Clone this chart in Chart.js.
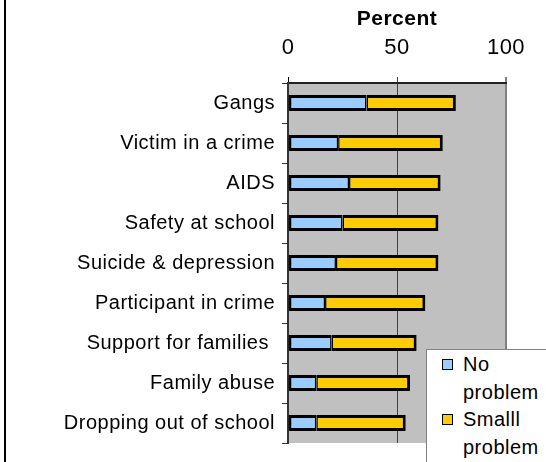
<!DOCTYPE html>
<html>
<head>
<meta charset="utf-8">
<script src="https://cdn.jsdelivr.net/npm/chart.js@4/dist/chart.umd.min.js"></script>
<style>
    body { margin: 0; background: #fff; }
    #wrap { position: relative; width: 546px; height: 462px; overflow: hidden; }
    #edge { position: absolute; left: 4px; top: 0; width: 2px; height: 462px; background: #000; }
    #legend {
        position: absolute; left: 426px; top: 349px; width: 140px; height: 130px;
        background: #fff; border: 1px solid #808080; box-sizing: border-box;
        font-family: 'Liberation Sans', Arial, sans-serif; font-size: 20px; letter-spacing: 0.5px;
        line-height: 27.7px; color: #000; padding: 1px 0 0 0;
    }
    .item { position: relative; padding-left: 36px; width: 80px; }
    .box { position: absolute; left: 15px; top: 8px; width: 9px; height: 9px; border: 1.5px solid #000; }
</style>
</head>
<body>
<div id="wrap">
    <canvas id="chart" width="546" height="462"></canvas>
    <div id="edge"></div>
    <div id="legend"></div>
</div>
<script>
const categories = ['Gangs', 'Victim in a crime', 'AIDS', 'Safety at school', 'Suicide & depression',
    'Participant in crime', 'Support for families ', 'Family abuse', 'Dropping out of school'];
const seriesNames = ['No problem', 'Smalll problem'];
const noProblem = [36, 23, 28, 25, 22, 17, 20, 13, 13];
const smallProblem = [41, 48, 42, 44, 47, 46, 39, 43, 41];
const xTicks = [0, 50, 100];

const FONT = "'Liberation Sans', Arial, sans-serif";
const COLORS = ['#99CCFF', '#FFCC00'];

// Excel-like text is a little wider than plain Arial
const plotLook = {
    id: 'plotLook',
    beforeLayout(chart) {
        chart.ctx.letterSpacing = '0.5px';
    },
    beforeDraw(chart) {
        const { ctx, chartArea: a } = chart;
        ctx.letterSpacing = '0.5px';
        ctx.save();
        ctx.fillStyle = '#C0C0C0';
        ctx.fillRect(a.left, a.top, a.right - a.left, a.bottom - a.top);
        ctx.restore();
    }
};

new Chart(document.getElementById('chart'), {
    type: 'bar',
    data: {
        labels: categories,
        datasets: [
            {
                label: seriesNames[0],
                data: noProblem,
                backgroundColor: COLORS[0],
                borderColor: '#000',
                borderWidth: { top: 3, bottom: 3, left: 3, right: 1.5 },
                borderSkipped: false
            },
            {
                label: seriesNames[1],
                data: smallProblem,
                backgroundColor: COLORS[1],
                borderColor: '#000',
                borderWidth: { top: 3, bottom: 3, left: 1.5, right: 3 },
                borderSkipped: false
            }
        ]
    },
    options: {
        indexAxis: 'y',
        responsive: false,
        animation: false,
        layout: { padding: { left: 0, top: 0, right: 40, bottom: 12 } },
        datasets: { bar: { categoryPercentage: 1, barPercentage: 0.4 } },
        plugins: { legend: { display: false }, tooltip: { enabled: false } },
        scales: {
            x: {
                position: 'top',
                stacked: true,
                min: 0,
                max: 100,
                afterBuildTicks: (scale) => { scale.ticks = xTicks.map((v) => ({ value: v })); },
                afterFit: (scale) => { scale.height = 83; },
                title: {
                    display: true,
                    text: 'Percent',
                    color: '#000',
                    font: { family: FONT, size: 21, weight: 'bold' },
                    padding: { top: 7, bottom: 0 }
                },
                ticks: { color: '#000', font: { family: FONT, size: 22 }, padding: 16, maxRotation: 0 },
                grid: {
                    color: (c) => ['#000', '#404040', '#808080'][c.index] || '#808080',
                    lineWidth: (c) => [1, 1, 2][c.index] || 1,
                    tickLength: 6,
                    drawTicks: true
                },
                border: { color: '#222', width: 2 }
            },
            y: {
                stacked: true,
                afterFit: (scale) => { scale.width = 288; },
                ticks: { color: '#000', font: { family: FONT, size: 20 }, padding: 7 },
                grid: { drawOnChartArea: false, drawTicks: true, tickLength: 6, color: '#333', offset: true },
                border: { color: '#333', width: 2 }
            }
        }
    },
    plugins: [plotLook]
});

const legend = document.getElementById('legend');
seriesNames.forEach((name, i) => {
    const item = document.createElement('div');
    item.className = 'item';
    const box = document.createElement('span');
    box.className = 'box';
    box.style.background = COLORS[i];
    item.appendChild(box);
    item.appendChild(document.createTextNode(name));
    legend.appendChild(item);
});
</script>
</body>
</html>
